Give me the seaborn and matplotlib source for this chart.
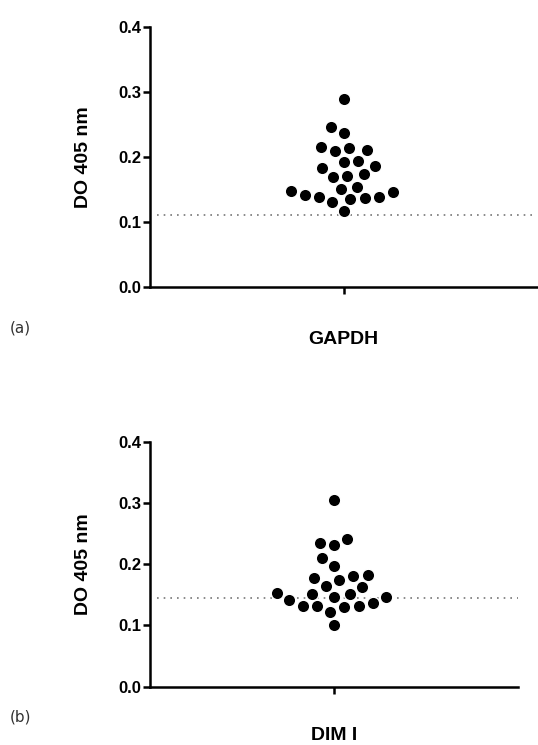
import pandas as pd
import seaborn as sns
import matplotlib.pyplot as plt

# DO 405 nm values
gapdh = [0.289, 0.246, 0.236, 0.215, 0.210, 0.209, 0.214, 0.193, 0.186, 0.173,
         0.170, 0.169, 0.183, 0.192, 0.151, 0.138, 0.146, 0.136, 0.141, 0.147,
         0.130, 0.154, 0.135, 0.138, 0.116]
dim1 = [0.305, 0.241, 0.231, 0.234, 0.210, 0.197, 0.181, 0.175, 0.162, 0.165,
        0.178, 0.183, 0.152, 0.146, 0.141, 0.132, 0.131, 0.130, 0.132, 0.122,
        0.137, 0.146, 0.151, 0.153, 0.100]
cutoffs = [0.110, 0.145]
groups = ['GAPDH', 'DIM I']
panels = ['(a)', '(b)']
yticks = [0.0, 0.1, 0.2, 0.3, 0.4]

sns.set_style('ticks')
plt.rcParams['font.family'] = ['Liberation Sans', 'DejaVu Sans']
plt.rcParams['text.color'] = 'black'
plt.rcParams['axes.labelcolor'] = 'black'

W, H = 538, 745
fig = plt.figure(figsize=(W / 100, H / 100), dpi=100)
ax1 = fig.add_axes([150 / W, 1 - 286.7 / H, 387 / W, 259.7 / H])
ax2 = fig.add_axes([150 / W, 1 - 686.7 / H, 368 / W, 245 / H])

for ax, vals, name, cut, wpx, lp in zip([ax1, ax2], [gapdh, dim1], groups, cutoffs,
                                        [387, 368], [26, 23]):
    df = pd.DataFrame({'group': name, 'value': vals})
    # white edge keeps the swarm a bit looser, like the original column scatter
    sns.swarmplot(data=df, x='group', y='value', ax=ax, color='black', size=9.0,
                  linewidth=1.0, edgecolor='white')
    ax.axhline(cut, xmin=7 / wpx, xmax=1, color='#777777', lw=1.2, ls=(0, (1, 3)), zorder=0)
    ax.set_xlim(-0.5, 0.5)
    ax.set_ylim(0, 0.4)
    ax.set_yticks(yticks)
    ax.set_yticklabels([f'{t:.1f}' for t in yticks], fontweight='bold')
    ax.set_xticks([0])
    ax.set_xticklabels([''])
    ax.set_xlabel(name, fontsize=14, fontweight='bold', labelpad=lp)
    ax.set_ylabel('DO 405 nm', fontsize=14, fontweight='bold', labelpad=19)
    sns.despine(ax=ax)
    for s in ['left', 'bottom']:
        ax.spines[s].set_linewidth(1.8)
        ax.spines[s].set_color('black')
    ax.tick_params(length=5, width=1.8, labelsize=12, pad=1, color='black', labelcolor='black')

fig.text(10 / W, 1 - 328 / H, panels[0], fontsize=11, family='DejaVu Sans', va='center', color='#333333')
fig.text(10 / W, 1 - 717 / H, panels[1], fontsize=11, family='DejaVu Sans', va='center', color='#333333')

fig.savefig('out.png', dpi=100)
